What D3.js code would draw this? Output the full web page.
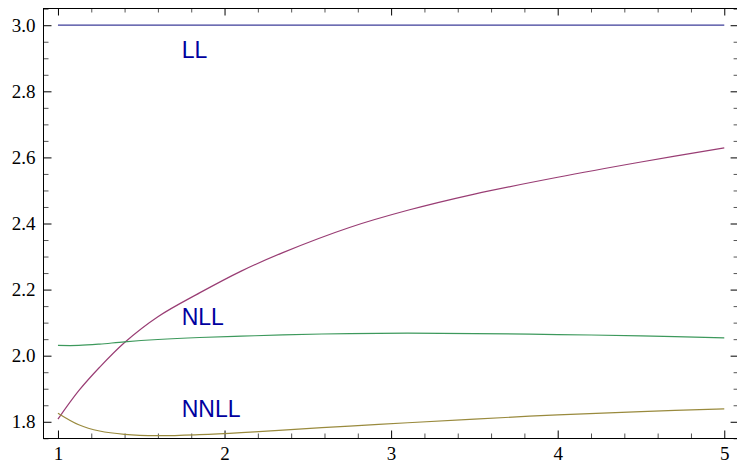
<!DOCTYPE html>
<html>
<head>
<meta charset="utf-8">
<script src="https://cdn.jsdelivr.net/npm/d3@7"></script>
<style>
  html, body { margin: 0; padding: 0; background: #fff; }
  svg { display: block; }
</style>
</head>
<body>
<div id="chart"></div>
<script>
const xs = [1, 1.125, 1.25, 1.4, 1.6, 1.85, 2.1, 2.35, 2.75, 3.1, 3.5, 4, 4.5, 5];

const llValues   = [3, 3, 3, 3, 3, 3, 3, 3, 3, 3, 3, 3, 3, 3];
const nllValues  = [1.808, 1.894, 1.965, 2.040, 2.118, 2.190, 2.256, 2.312, 2.388, 2.440, 2.489, 2.540, 2.586, 2.629];
const greenVals  = [2.031, 2.031, 2.035, 2.042, 2.049, 2.055, 2.059, 2.063, 2.067, 2.068, 2.067, 2.064, 2.060, 2.054];
const oliveVals  = [1.826, 1.791, 1.772, 1.762, 1.758, 1.761, 1.767, 1.775, 1.787, 1.797, 1.808, 1.821, 1.831, 1.839];

const xTicks = [1, 2, 3, 4, 5];
const yTicks = [1.8, 2.0, 2.2, 2.4, 2.6, 2.8, 3.0];

const labelNames = ["LL", "NLL", "NNLL"];
const labelX = [1.743, 1.743, 1.743];
const labelY = [2.900, 2.094, 1.813];

const W = 737, H = 467;

const svg = d3.select("#chart").append("svg")
  .attr("width", W)
  .attr("height", H);

const x = d3.scaleLinear().domain([0.912, 5.08]).range([43.3, 737.6]);
const y = d3.scaleLinear().domain([1.75, 3.05]).range([438.3, 8.7]);

const xMinor = d3.range(0.2, 5.01, 0.2).map(v => +v.toFixed(2)).filter(v => v > 0.912 && !xTicks.includes(v));
const yMinor = d3.range(1.75, 3.051, 0.05).map(v => +v.toFixed(2)).filter(v => !yTicks.some(t => Math.abs(t - v) < 1e-6));

function tickLines(g, color) {
  g.select(".domain").remove();
  g.selectAll(".tick line").attr("stroke", color).attr("stroke-width", 1);
}

// bottom axis with labels
const bottomAxis = svg.append("g")
  .attr("transform", "translate(0,438.5)")
  .call(d3.axisBottom(x).tickValues(xTicks).tickSizeInner(-8).tickSizeOuter(0).tickPadding(8).tickFormat(d3.format("d")));
tickLines(bottomAxis, "#000");
bottomAxis.attr("font-family", "Liberation Serif").attr("font-size", 19);

svg.append("g")
  .attr("transform", "translate(0,438.5)")
  .call(d3.axisBottom(x).tickValues(xMinor).tickSizeInner(-5).tickSizeOuter(0).tickFormat(""))
  .call(g => tickLines(g, "#555"));

// left axis with labels
const leftAxis = svg.append("g")
  .attr("transform", "translate(43.5,0)")
  .call(d3.axisLeft(y).tickValues(yTicks).tickSizeInner(-8).tickSizeOuter(0).tickPadding(8).tickFormat(d3.format(".1f")));
tickLines(leftAxis, "#000");
leftAxis.attr("font-family", "Liberation Serif").attr("font-size", 19);

svg.append("g")
  .attr("transform", "translate(43.5,0)")
  .call(d3.axisLeft(y).tickValues(yMinor).tickSizeInner(-5).tickSizeOuter(0).tickFormat(""))
  .call(g => tickLines(g, "#555"));

// top and right frame ticks, no labels
svg.append("g")
  .attr("transform", "translate(0,8.5)")
  .call(d3.axisTop(x).tickValues(xTicks).tickSizeInner(-7).tickSizeOuter(0).tickFormat(""))
  .call(g => tickLines(g, "#000"));
svg.append("g")
  .attr("transform", "translate(0,8.5)")
  .call(d3.axisTop(x).tickValues(xMinor).tickSizeInner(-4).tickSizeOuter(0).tickFormat(""))
  .call(g => tickLines(g, "#555"));
svg.append("g")
  .attr("transform", "translate(737.6,0)")
  .call(d3.axisRight(y).tickValues(yTicks).tickSizeInner(-7).tickSizeOuter(0).tickFormat(""))
  .call(g => tickLines(g, "#000"));
svg.append("g")
  .attr("transform", "translate(737.6,0)")
  .call(d3.axisRight(y).tickValues(yMinor).tickSizeInner(-4).tickSizeOuter(0).tickFormat(""))
  .call(g => tickLines(g, "#555"));

// frame
svg.append("rect")
  .attr("x", 43.5).attr("y", 8.5)
  .attr("width", 738 - 43.5).attr("height", 438.5 - 8.5)
  .attr("fill", "none").attr("stroke", "#000").attr("stroke-width", 1);

// curves
const line = d3.line()
  .x(d => x(d[0]))
  .y(d => y(d[1]))
  .curve(d3.curveCatmullRom.alpha(0.5));

const seriesList = [
  { vals: llValues,  color: "#3d3d99" },
  { vals: nllValues, color: "#993d74" },
  { vals: oliveVals, color: "#998a3d" },
  { vals: greenVals, color: "#3d995c" }
];

seriesList.forEach(s => {
  svg.append("path")
    .datum(xs.map((v, i) => [v, s.vals[i]]))
    .attr("d", line)
    .attr("fill", "none")
    .attr("stroke", s.color)
    .attr("stroke-width", 1.2);
});

// text labels
labelNames.forEach((t, i) => {
  svg.append("text")
    .attr("x", x(labelX[i]))
    .attr("y", y(labelY[i]))
    .attr("font-family", "Liberation Sans")
    .attr("font-size", 23)
    .attr("fill", "#00009f")
    .text(t);
});
</script>
</body>
</html>
